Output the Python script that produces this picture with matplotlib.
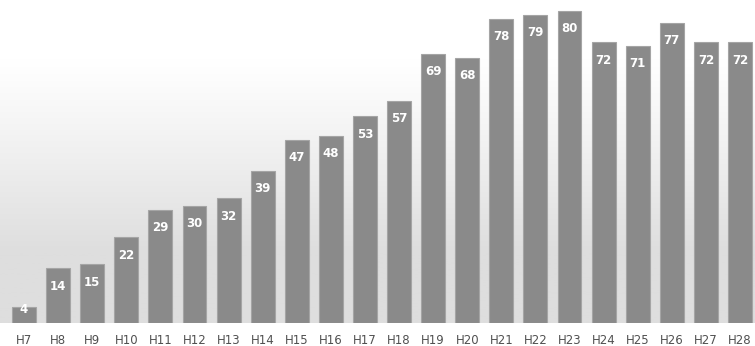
import numpy as np
import matplotlib
matplotlib.use("Agg")
import matplotlib.pyplot as plt
from matplotlib.colors import LinearSegmentedColormap

categories = ["H7", "H8", "H9", "H10", "H11", "H12", "H13", "H14", "H15", "H16", "H17",
              "H18", "H19", "H20", "H21", "H22", "H23", "H24", "H25", "H26", "H27", "H28"]
values = [4, 14, 15, 22, 29, 30, 32, 39, 47, 48, 53, 57, 69, 68, 78, 79, 80, 72, 71, 77, 72, 72]

fig = plt.figure(figsize=(7.55, 3.46), dpi=100)
fig.patch.set_facecolor("white")
ax = fig.add_axes([0, 23 / 346, 1, 1 - 23 / 346])

x = np.arange(len(categories))
xl = (-0.704, 21.44)
yl = (0, 82.8)

# background gradient (white at top -> light gray lower down)
t = np.linspace(0, 1, 256).reshape(-1, 1)
grad = np.clip((t - 0.18) / 0.6, 0, 1) ** 1.1
cmap = LinearSegmentedColormap.from_list("bg", ["#ffffff", "#dedede"])
ax.imshow(grad, extent=[xl[0], xl[1], yl[0], yl[1]], aspect="auto", cmap=cmap,
          origin="upper", zorder=0, vmin=0, vmax=1)
ax.set_xlim(*xl)
ax.set_ylim(*yl)

ax.bar(x, values, width=0.7, color="#8a8a8a", edgecolor="#a5a5a5",
       linewidth=0.8, zorder=2)

for xi, v in zip(x, values):
    ly = v - 4.6 if v > 8 else v - 0.6
    ax.text(xi, ly, str(v), ha="center", va="center", color="white",
            fontsize=8.5, fontweight="bold", zorder=3, clip_on=True)

ax.set_xticks(x)
ax.set_xticklabels(categories, fontsize=8.5, color="#505050")
ax.tick_params(axis="x", length=0, pad=8)
ax.set_yticks([])
for s in ax.spines.values():
    s.set_visible(False)

fig.savefig("out.png", dpi=100)
